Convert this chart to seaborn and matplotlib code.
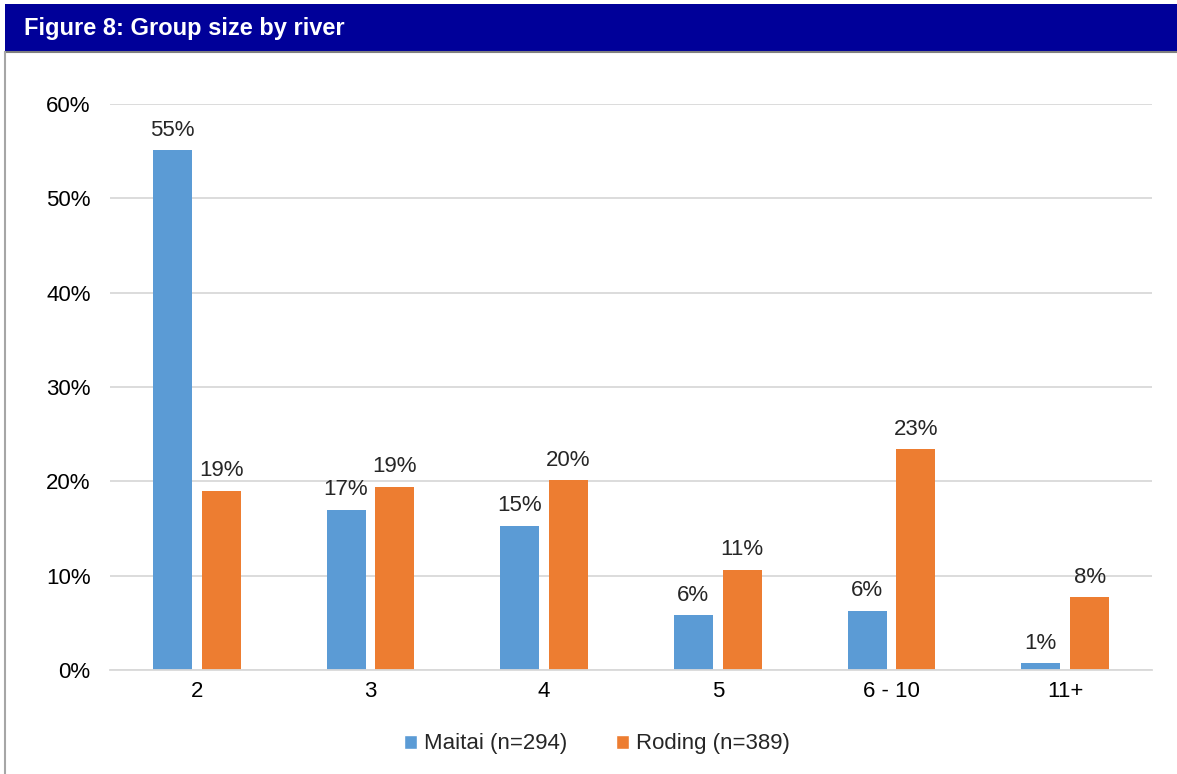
import pandas as pd
import matplotlib
matplotlib.use("Agg")
import matplotlib.pyplot as plt
import seaborn as sns
from matplotlib.patches import Rectangle
from matplotlib.lines import Line2D

# data (percent)
group_sizes = ["2", "3", "4", "5", "6 - 10", "11+"]
maitai = [55.1, 17.0, 15.3, 5.8, 6.3, 0.7]
roding = [19.0, 19.4, 20.1, 10.6, 23.4, 7.7]
series_names = ["Maitai (n=294)", "Roding (n=389)"]
colors = ["#5B9BD5", "#ED7D31"]

data = pd.DataFrame({
    "Group size": group_sizes * 2,
    "Percent": maitai + roding,
    "River": [series_names[0]] * len(group_sizes) + [series_names[1]] * len(group_sizes),
})

sns.set_style("white")
plt.rcParams["font.family"] = ["Liberation Sans", "DejaVu Sans"]

W, H = 1177, 774
fig = plt.figure(figsize=(W / 100, H / 100), dpi=100)
fig.patch.set_facecolor("white")

# header band
fig.patches.append(Rectangle((5 / W, 1 - 52 / H), 1 - 5 / W, 48 / H,
                             transform=fig.transFigure, facecolor="#000099",
                             edgecolor="none", zorder=0))
fig.lines.append(Line2D([5 / W, 1], [1 - 52 / H, 1 - 52 / H], transform=fig.transFigure,
                        color="#7f7f7f", linewidth=1.5))
fig.lines.append(Line2D([5 / W, 5 / W], [0, 1 - 52 / H], transform=fig.transFigure,
                        color="#a6a6a6", linewidth=1.5))
fig.text(24 / W, 1 - 29 / H, "Figure 8: Group size by river", color="white",
         fontsize=17, fontweight="bold", va="center", ha="left")

# plot area
ax = fig.add_axes([110 / W, 1 - 670 / H, (1152 - 110) / W, (670 - 104) / H])
sns.barplot(data=data, x="Group size", y="Percent", hue="River", palette=colors,
            saturation=1, width=0.563, gap=0.2, linewidth=0, ax=ax, legend=False)

ax.set_ylim(0, 60)
ax.set_xlim(-0.5, len(group_sizes) - 0.5)
ax.set_yticks(range(0, 61, 10))
ax.set_yticklabels([f"{v}%" for v in range(0, 61, 10)])
ax.yaxis.grid(True, color="#d9d9d9", linewidth=1.3)
ax.set_axisbelow(True)
for s in ["top", "right", "left"]:
    ax.spines[s].set_visible(False)
ax.spines["bottom"].set_color("#d9d9d9")
ax.spines["bottom"].set_linewidth(1.3)
ax.tick_params(axis="both", length=0, labelsize=16, colors="black")
ax.tick_params(axis="y", pad=14)
ax.tick_params(axis="x", pad=8)
ax.set_xlabel("")
ax.set_ylabel("")

for cont in ax.containers:
    vals = [b.get_height() for b in cont]
    ax.bar_label(cont, labels=[f"{v:.0f}%" for v in vals], padding=7, fontsize=16)

handles = [Rectangle((0, 0), 1, 1, facecolor=c) for c in colors]
fig.legend(handles, series_names, loc="center", bbox_to_anchor=(597 / W, 1 - 744 / H),
           ncol=2, frameon=False, fontsize=16, handlelength=0.6, handleheight=0.6,
           handletextpad=0.3, columnspacing=2.2)

plt.savefig("out.png", dpi=100)
